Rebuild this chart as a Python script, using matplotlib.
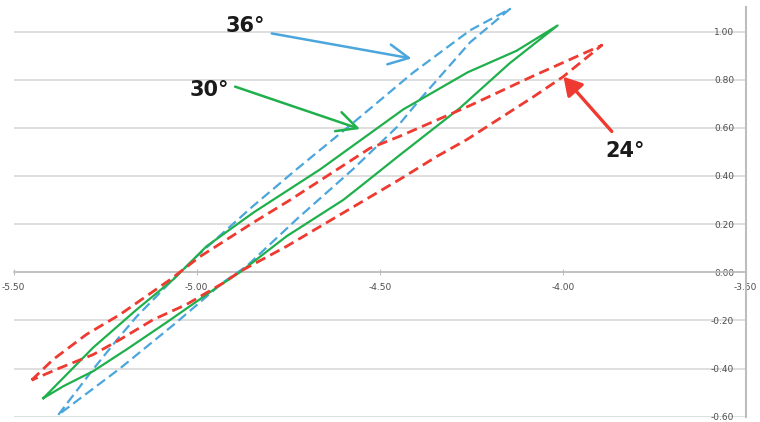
import matplotlib.pyplot as plt
from matplotlib.ticker import FormatStrFormatter

plt.rcParams['axes.unicode_minus'] = False

# loops: upper branch from the left tip to the right tip, then lower branch back
x36 = [-5.378, -5.283, -5.210, -5.164, -5.065, -5.000, -4.846, -4.727, -4.585, -4.409, -4.253, -4.144,
       -4.253, -4.390, -4.453, -4.573, -4.727, -4.863, -4.928, -5.055, -5.210, -5.378]
y36 = [-0.592, -0.403, -0.266, -0.184, -0.030, 0.066, 0.275, 0.428, 0.605, 0.829, 1.005, 1.094,
       0.955, 0.718, 0.603, 0.428, 0.220, 0.026, -0.042, -0.208, -0.400, -0.592]

x30 = [-5.419, -5.283, -5.164, -5.064, -4.973, -4.845, -4.663, -4.436, -4.259, -4.126, -4.014,
       -4.145, -4.281, -4.445, -4.554, -4.600, -4.754, -4.882, -4.945, -5.082, -5.191, -5.283, -5.364, -5.419]
y30 = [-0.523, -0.313, -0.155, -0.030, 0.108, 0.248, 0.427, 0.676, 0.831, 0.920, 1.025,
       0.868, 0.682, 0.487, 0.355, 0.300, 0.150, 0.000, -0.063, -0.208, -0.320, -0.411, -0.473, -0.523]

x24 = [-5.451, -5.392, -5.301, -5.210, -5.073, -4.991, -4.846, -4.745, -4.527, -4.445, -4.254, -4.081, -3.893,
       -3.999, -4.080, -4.262, -4.344, -4.445, -4.554, -4.754, -4.882, -4.927, -5.027, -5.119, -5.210, -5.283, -5.373, -5.451]
y24 = [-0.448, -0.362, -0.258, -0.176, -0.031, 0.065, 0.206, 0.300, 0.515, 0.565, 0.692, 0.815, 0.943,
       0.812, 0.729, 0.551, 0.481, 0.386, 0.288, 0.108, 0.003, -0.044, -0.133, -0.197, -0.280, -0.342, -0.397, -0.448]

x_ticks = [-5.5, -5.0, -4.5, -4.0, -3.5]
y_ticks = [-0.6, -0.4, -0.2, 0.0, 0.2, 0.4, 0.6, 0.8, 1.0]

blue = '#4aa6dc'
green = '#1fb04c'
red = '#ee3a30'

fig = plt.figure(figsize=(7.6, 4.22), dpi=100)
ax = fig.add_axes([0.018, 0.0125, 0.9632, 0.9716])

ax.plot(x36, y36, color=blue, lw=1.6, ls=(0, (4.5, 2.2)), zorder=3)
ax.plot(x30, y30, color=green, lw=1.6, zorder=3)
ax.plot(x24, y24, color=red, lw=2.0, ls=(0, (3.8, 2)), zorder=3)

ax.set_xlim(-5.5, -3.5)
ax.set_ylim(-0.6, 1.103)

# axes: x axis through zero, value axis on the right
ax.spines['left'].set_visible(False)
ax.spines['top'].set_visible(False)
ax.spines['bottom'].set_position(('data', 0))
ax.spines['bottom'].set_color('#bdbdbd')
ax.spines['bottom'].set_linewidth(1.2)
ax.spines['right'].set_color('#bdbdbd')
ax.spines['right'].set_linewidth(1.5)

ax.set_xticks(x_ticks)
ax.xaxis.set_major_formatter(FormatStrFormatter('%.2f'))
ax.tick_params(axis='x', direction='inout', length=4, color='#bdbdbd',
               pad=6, labelsize=6.5, labelcolor='#4d4d4d')

ax.yaxis.tick_right()
ax.set_yticks(y_ticks)
ax.yaxis.set_major_formatter(FormatStrFormatter('%.2f'))
ax.tick_params(axis='y', length=0, pad=-8.4, labelsize=6.5, labelcolor='#4d4d4d')
for lbl in ax.get_yticklabels():
    lbl.set_horizontalalignment('right')

ax.grid(axis='y', color='#d9d9d9', lw=1.2)
ax.set_axisbelow(True)

# angle labels with arrows
font = dict(family='DejaVu Sans', weight='bold', size=15, color='#1a1a1a')
ax.text(-4.868, 1.022, '36°', ha='center', va='center', zorder=5, **font)
ax.text(-4.966, 0.757, '30°', ha='center', va='center', zorder=5, **font)
ax.text(-3.830, 0.502, '24°', ha='center', va='center', zorder=5, **font)

ax.annotate('', xy=(-4.413, 0.888), xytext=(-4.795, 0.992), zorder=4,
            arrowprops=dict(arrowstyle='->,head_length=0.8,head_width=0.4',
                            mutation_scale=18, color=blue, lw=1.8,
                            shrinkA=0, shrinkB=0))
ax.annotate('', xy=(-4.554, 0.595), xytext=(-4.895, 0.771), zorder=4,
            arrowprops=dict(arrowstyle='->,head_length=0.8,head_width=0.4',
                            mutation_scale=18, color=green, lw=1.8,
                            shrinkA=0, shrinkB=0))
ax.annotate('', xy=(-3.998, 0.812), xytext=(-3.866, 0.585), zorder=4,
            arrowprops=dict(arrowstyle='-|>,head_length=0.6,head_width=0.35',
                            mutation_scale=18, color=red, lw=2.4,
                            shrinkA=0, shrinkB=0))

fig.savefig('out.png', dpi=100)
